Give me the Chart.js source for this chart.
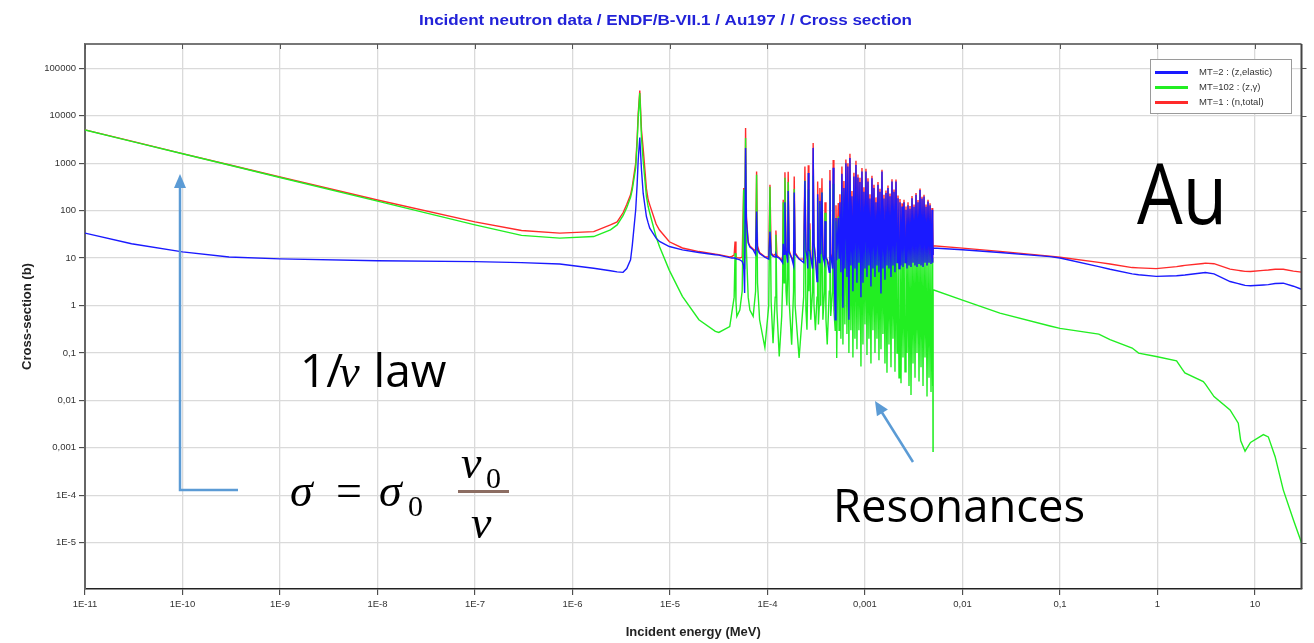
<!DOCTYPE html>
<html>
<head>
<meta charset="utf-8">
<script src="https://cdn.jsdelivr.net/npm/chart.js@4.4.1/dist/chart.umd.min.js"></script>
<style>
  html, body { margin: 0; padding: 0; background: #fff; }
  #wrap { width: 1314px; height: 643px; position: relative; }
</style>
</head>
<body>
<div id="wrap"><canvas id="grafico"></canvas></div>
<script>
// energies in eV, cross sections in barns
// below the resonances: 1/v region and the 4.9 eV resonance
const lowEnergy = [1e-5, 3e-5, 1e-4, 3e-4, 1e-3, 1e-2, 0.1, 0.3, 0.74, 1.65,
  2.45, 2.87, 3.3, 3.6, 3.94, 4.1, 4.45, 4.6, 4.72, 4.9,
  5.1, 5.31, 5.73, 5.97, 6.2, 7.2, 7.8, 9.85, 13.4, 19.8,
  29.2, 31.7, 41, 43];
const lowElastic = [33.6, 20, 13.5, 10.5, 9.6, 8.8, 8.4, 8.0, 7.5, 6.1,
  5.4, 5.1, 5.0, 6.0, 9.2, 18, 104, 350, 1170, 3470,
  724, 230, 75, 55, 42.7, 26.3, 22.4, 17.5, 14.9, 13.1,
  11.7, 11.5, 10.2, 10];
const lowCapture = [5000, 2887, 1580, 913, 500, 158, 50, 30, 26.3, 28.4,
  39.3, 50, 78, 115, 190, 274, 800, 2600, 9000, 30000,
  3500, 1100, 200, 122, 89, 28, 17.5, 5.5, 1.56, 0.5,
  0.285, 0.27, 0.36, 0.69];
const lowTotal = [5034, 2907, 1594, 924, 510, 167, 58, 38, 33.6, 36,
  50, 58, 90, 135, 215, 322, 1000, 3200, 11000, 34000,
  5000, 2000, 290, 169, 132, 52, 39, 22, 16.3, 13.7,
  12.1, 11.8, 10.6, 10.8];

// resolved resonances, 45 eV - 5 keV
const resEnergy = [45.5, 46.5, 47.5, 48.5, 52, 55, 57, 57.6, 58.3, 59.6,
  60.8, 63.4, 66, 71.3, 75.5, 77.3, 79, 83, 94, 103,
  106, 109, 114, 120, 122, 125, 132, 140, 143, 145,
  148, 151, 155, 158, 161, 163, 167, 177, 185, 188,
  192, 211, 235, 242, 248, 254, 259, 262, 266, 272,
  278, 290, 294, 300, 310, 322, 327, 333, 340, 345,
  352, 362, 370, 384, 389, 398, 410, 430, 437, 445,
  465, 472, 480, 495, 504, 513, 532, 542,
  553, 566, 580, 594, 608, 622, 637, 653, 668, 684,
  701, 717, 735, 752, 770, 789, 808, 827, 847, 867,
  888, 909, 931, 953, 976, 999, 1023, 1048, 1073, 1098,
  1125, 1151, 1179, 1207, 1236, 1266, 1296, 1327, 1359, 1391,
  1425, 1459, 1494, 1529, 1566, 1603, 1642, 1681, 1721, 1762,
  1805, 1848, 1892, 1937, 1984, 2031, 2080, 2130, 2180, 2233,
  2286, 2341, 2397, 2454, 2513, 2573, 2634, 2697, 2762, 2828,
  2896, 2965, 3036, 3108, 3183, 3259, 3337, 3416, 3498, 3582,
  3667, 3755, 3845, 3937, 4031, 4127, 4226, 4327, 4430, 4536,
  4645, 4756, 4869, 4930, 4960, 4986];
const resElastic = [10, 10, 9.7, 9.6, 9.2, 8.5, 7, 4, 1.83, 2090,
  60, 20.6, 17, 14.9, 12, 96, 15, 12.5, 10.5, 9.5,
  36, 12, 11, 10.5, 12, 10.5, 10, 8.5, 7.9, 20,
  12, 150, 14, 11, 8, 260, 13, 10, 7, 240,
  12, 9.5, 8, 420, 14, 11, 6, 620, 15, 14,
  10, 6, 2100, 20, 10, 3.2, 220, 12, 8, 160,
  12, 240, 11, 8, 60, 10, 9, 5, 430, 12,
  6, 800, 14, 0.5, 70, 9, 70, 10,
  150, 5, 600, 0.9, 300, 6, 1000, 4, 850, 0.5,
  1280, 7, 200, 2, 525, 6, 920, 3, 500, 8,
  400, 1.5, 670, 3, 250, 6, 670, 4, 410, 7,
  180, 2.5, 480, 6, 300, 4, 150, 7, 350, 5,
  250, 1.8, 670, 6, 180, 3.5, 234, 7, 300, 6,
  200, 4, 410, 7, 250, 5, 410, 8, 183, 6,
  150, 7, 122, 6.5, 150, 8, 104, 6, 130, 7,
  110, 6.5, 183, 8, 120, 7, 215, 6.5, 150, 7.5,
  273, 7, 180, 6.5, 198, 8, 120, 7, 155, 8,
  130, 7.5, 104, 8, 64, 12];
const resCapture = [1.5, 12.7, 1.2, 0.59, 0.8, 2, 280, 6, 10, 3400,
  15, 1.5, 0.8, 0.59, 2, 570, 3, 0.5, 0.13, 1,
  320, 1.2, 0.16, 1.5, 31, 0.8, 0.084, 0.6, 3, 150,
  3, 490, 2, 1, 4, 400, 1.2, 0.149, 2, 285,
  1, 0.078, 1.5, 430, 0.8, 0.31, 3, 280, 2, 40,
  0.5, 2, 550, 1, 0.3, 1.5, 190, 0.4, 1, 140,
  1, 240, 0.5, 2, 90, 0.5, 0.15, 2, 290, 0.6,
  2, 370, 0.8, 0.3, 60, 0.078, 75, 0.3,
  70, 0.2, 250, 0.15, 120, 0.4, 200, 0.25, 150, 0.1,
  300, 0.3, 60, 0.08, 100, 0.2, 200, 0.12, 80, 0.3,
  90, 0.052, 120, 0.15, 60, 0.4, 90, 0.09, 70, 0.2,
  40, 0.06, 60, 0.3, 50, 0.1, 40, 0.2, 50, 0.07,
  40, 0.12, 60, 0.25, 35, 0.06, 30, 0.038, 40, 0.15,
  30, 0.05, 50, 0.2, 30, 0.04, 40, 0.1, 25, 0.03,
  25, 0.023, 20, 0.08, 20, 0.04, 18, 0.1, 20, 0.02,
  15, 0.013, 20, 0.06, 15, 0.03, 20, 0.1, 18, 0.025,
  20, 0.05, 15, 0.02, 18, 0.08, 15, 0.012, 15, 0.03,
  12, 0.015, 10, 0.02, 5, 0.00084];
const resTotal = [11.5, 22.4, 10.9, 10.2, 10, 10.5, 300, 10, 12, 5500,
  75, 22, 18, 15.5, 14, 670, 18, 13, 10.6, 10.5,
  350, 13, 11.2, 12, 38, 11.3, 10.1, 9.1, 11, 170,
  15, 640, 16, 12, 12, 660, 14.2, 10.2, 9, 525,
  13, 9.6, 9.5, 850, 14.8, 11.3, 9, 900, 17, 54,
  10.5, 8, 2650, 21, 10.3, 4.7, 410, 12.4, 9, 300,
  13, 480, 11.5, 10, 150, 10.5, 9.2, 7, 720, 12.6,
  8, 1170, 15, 0.8, 130, 9.1, 145, 10.3,
  220, 5.2, 850, 1.05, 420, 6.4, 1200, 4.25, 1000, 0.6,
  1580, 7.3, 260, 2.08, 625, 6.2, 1120, 3.12, 580, 8.3,
  490, 1.55, 790, 3.15, 310, 6.4, 760, 4.1, 480, 7.2,
  220, 2.56, 540, 6.3, 350, 4.1, 190, 7.2, 400, 5.07,
  290, 1.92, 730, 6.25, 215, 3.56, 264, 7.04, 340, 6.15,
  230, 4.05, 460, 7.2, 280, 5.04, 450, 8.1, 208, 6.03,
  175, 7.02, 142, 6.58, 170, 8.04, 122, 6.1, 150, 7.02,
  125, 6.51, 203, 8.06, 135, 7.03, 235, 6.6, 168, 7.53,
  293, 7.05, 195, 6.52, 216, 8.08, 135, 7.01, 170, 8.03,
  142, 7.52, 114, 8.02, 69, 12];

// unresolved / fast region, 5 keV - 30 MeV
const highEnergy = [5000, 1e4, 2.42e4, 7.9e4, 1e5, 2.5e5, 3.26e5, 5.5e5, 6.4e5, 9.7e5,
  1.57e6, 1.8e6, 1.91e6, 2.95e6, 3.1e6, 3.8e6, 5.55e6, 6.74e6, 7.14e6, 7.91e6,
  9.0e6, 1.22e7, 1.37e7, 1.61e7, 1.95e7, 2.48e7, 3.0e7];
const highElastic = [16.2, 15, 13.1, 10.7, 10, 6.6, 5.8, 4.65, 4.45, 4.1,
  4.25, 4.35, 4.4, 4.9, 4.96, 4.65, 3.2, 2.9, 2.8, 2.65,
  2.6, 2.7, 2.75, 2.9, 2.95, 2.55, 2.2];
const highCapture = [2.14, 1.3, 0.69, 0.37, 0.33, 0.25, 0.19, 0.127, 0.099, 0.084,
  0.068, 0.045, 0.038, 0.025, 0.022, 0.012, 0.0063, 0.0033, 0.0014, 0.00085,
  0.0013, 0.0019, 0.0017, 0.00065, 0.00013, 0.00003, 0.00001];
const highTotal = [18.1, 16.2, 13.8, 11, 10.4, 8.1, 7.5, 6.3, 6.2, 6.0,
  6.6, 6.9, 7.0, 7.7, 7.8, 7.6, 5.85, 5.5, 5.4, 5.25,
  5.2, 5.5, 5.6, 5.8, 5.8, 5.3, 5.05];

const xTickValues = [1e-11, 1e-10, 1e-9, 1e-8, 1e-7, 1e-6, 1e-5, 1e-4, 1e-3, 1e-2, 1e-1, 1, 10];
const xTickLabels = ["1E-11", "1E-10", "1E-9", "1E-8", "1E-7", "1E-6", "1E-5", "1E-4", "0,001", "0,01", "0,1", "1", "10"];
const yTickValues = [1e-5, 1e-4, 1e-3, 1e-2, 1e-1, 1, 10, 100, 1000, 10000, 100000];
const yTickLabels = ["1E-5", "1E-4", "0,001", "0,01", "0,1", "1", "10", "100", "1000", "10000", "100000"];

const energy = lowEnergy.concat(resEnergy, highEnergy);
const serie = (lo, res, hi) => lo.concat(res, hi).map((v, i) => ({ x: energy[i] * 1e-6, y: v }));

const ARROW = "#5b9bd5";

function fitText(ctx, text, x, y, font, width) {
  ctx.font = font;
  const k = width / ctx.measureText(text).width;
  ctx.save();
  ctx.translate(x, y);
  ctx.scale(k, 1);
  ctx.fillText(text, 0, 0);
  ctx.restore();
}

function arrowHead(ctx, x0, y0, x1, y1, len, half) {
  const d = Math.hypot(x1 - x0, y1 - y0);
  const ux = (x1 - x0) / d, uy = (y1 - y0) / d;
  ctx.beginPath();
  ctx.moveTo(x1, y1);
  ctx.lineTo(x1 - ux * len - uy * half, y1 - uy * len + ux * half);
  ctx.lineTo(x1 - ux * len + uy * half, y1 - uy * len - ux * half);
  ctx.closePath();
  ctx.fill();
}

const extras = {
  id: "extras",
  afterDraw(chart) {
    const ctx = chart.ctx, a = chart.chartArea;
    const xs = chart.scales.x, ys = chart.scales.y;
    ctx.save();

    // frame + ticks on top and right
    ctx.strokeStyle = "#777";
    ctx.lineWidth = 2;
    ctx.beginPath();
    ctx.moveTo(a.left, a.top); ctx.lineTo(a.right, a.top);
    ctx.stroke();
    ctx.strokeStyle = "#444";
    ctx.beginPath();
    ctx.moveTo(a.right, a.top); ctx.lineTo(a.right, a.bottom);
    ctx.stroke();
    ctx.lineWidth = 1;
    ctx.strokeStyle = "#555";
    xTickValues.forEach(v => {
      const px = Math.round(xs.getPixelForValue(v)) + 0.5;
      ctx.beginPath(); ctx.moveTo(px, a.top); ctx.lineTo(px, a.top + 5); ctx.stroke();
    });
    yTickValues.forEach(v => {
      const py = Math.round(ys.getPixelForValue(v)) + 0.5;
      ctx.beginPath(); ctx.moveTo(a.right, py); ctx.lineTo(a.right + 5, py); ctx.stroke();
    });

    // title
    ctx.fillStyle = "#2222d8";
    ctx.textBaseline = "alphabetic";
    ctx.textAlign = "left";
    fitText(ctx, "Incident neutron data / ENDF/B-VII.1 / Au197 / / Cross section", 419, 25,
      'bold 14px "Liberation Sans"', 493);

    // legend
    ctx.fillStyle = "#fff";
    ctx.fillRect(1150.5, 59.5, 141, 54);
    ctx.strokeStyle = "#9a9a9a";
    ctx.lineWidth = 1;
    ctx.strokeRect(1150.5, 59.5, 141, 54);
    chart.data.datasets.forEach((ds, i) => {
      const y = 72.5 + i * 15;
      ctx.strokeStyle = ds.borderColor;
      ctx.lineWidth = 3;
      ctx.beginPath(); ctx.moveTo(1155, y); ctx.lineTo(1188, y); ctx.stroke();
      ctx.fillStyle = "#333";
      ctx.font = '9.5px "Liberation Sans"';
      ctx.textBaseline = "middle";
      ctx.fillText(ds.label, 1199, y);
    });

    // annotations
    ctx.textBaseline = "alphabetic";
    ctx.fillStyle = "#000";
    fitText(ctx, "Au", 1137, 224, '84px "Open Sans"', 90);
    fitText(ctx, "Resonances", 833, 522, '45px "Open Sans"', 252);

    let x = 300;
    ctx.font = '46px "Open Sans"';
    ctx.fillText("1/", x, 387);
    x += ctx.measureText("1/").width - 4;
    ctx.font = 'italic 46px "Liberation Serif"';
    ctx.fillText("v", x, 387);
    x += ctx.measureText("v").width + 2;
    ctx.font = '46px "Open Sans"';
    ctx.fillText(" law", x, 387);

    ctx.font = 'italic 46px "Liberation Serif"';
    ctx.fillText("σ", 290, 506);
    ctx.font = '46px "Liberation Serif"';
    ctx.fillText("=", 336, 506);
    ctx.font = 'italic 46px "Liberation Serif"';
    ctx.fillText("σ", 379, 506);
    ctx.fillText("v", 461, 478);
    ctx.fillText("v", 471, 538);
    ctx.font = '30px "Liberation Serif"';
    ctx.fillText("0", 408, 516);
    ctx.fillText("0", 486, 488);
    ctx.fillStyle = "#8c6d62";
    ctx.fillRect(458, 490, 51, 3);

    ctx.strokeStyle = ARROW;
    ctx.fillStyle = ARROW;
    ctx.lineWidth = 2.5;
    ctx.beginPath();
    ctx.moveTo(238, 490); ctx.lineTo(180, 490); ctx.lineTo(180, 186);
    ctx.stroke();
    arrowHead(ctx, 180, 490, 180, 174, 14, 6);
    ctx.beginPath();
    ctx.moveTo(913, 462); ctx.lineTo(881, 411);
    ctx.stroke();
    arrowHead(ctx, 913, 462, 875, 401, 14, 6.5);

    ctx.restore();
  }
};

const tickFont = { size: 9.5, family: "'Liberation Sans', sans-serif" };
const titleFont = { size: 13, weight: "bold", family: "'Liberation Sans', sans-serif" };

new Chart(document.getElementById("grafico").getContext("2d"), {
  type: "line",
  data: {
    datasets: [
      { label: "MT=2 : (z,elastic)", data: serie(lowElastic, resElastic, highElastic), borderColor: "#1a1aff" },
      { label: "MT=102 : (z,γ)", data: serie(lowCapture, resCapture, highCapture), borderColor: "#22ee22" },
      { label: "MT=1 : (n,total)", data: serie(lowTotal, resTotal, highTotal), borderColor: "#ff2a2a" }
    ].map(ds => Object.assign(ds, { borderWidth: 1.4, pointRadius: 0, tension: 0, fill: false }))
  },
  options: {
    responsive: true,
    maintainAspectRatio: false,
    animation: false,
    layout: { padding: { top: 44, right: 12.5, left: 0, bottom: 0 } },
    plugins: {
      legend: { display: false },
      title: { display: false },
      tooltip: { enabled: false }
    },
    scales: {
      x: {
        type: "logarithmic",
        min: 1e-11,
        max: 30,
        afterBuildTicks: s => { s.ticks = xTickValues.map(v => ({ value: v })); },
        afterFit: s => { s.height = 54; },
        ticks: {
          autoSkip: false, maxRotation: 0, padding: 4, color: "#333", font: tickFont,
          callback: (v, i) => xTickLabels[i]
        },
        grid: { color: "#dadada", lineWidth: 1.3, tickLength: 6, tickColor: "#333", tickWidth: 1 },
        border: { color: "#222", width: 1.5 },
        title: { display: true, text: "Incident energy (MeV)", color: "#222", font: titleFont, padding: { top: 0, bottom: 3 } }
      },
      y: {
        type: "logarithmic",
        min: 1.057e-6,
        max: 3.25e5,
        afterBuildTicks: s => { s.ticks = yTickValues.map(v => ({ value: v })); },
        afterFit: s => { s.width = 85; },
        ticks: {
          autoSkip: false, padding: 3, color: "#333", font: tickFont,
          callback: (v, i) => yTickLabels[i]
        },
        grid: { color: "#dadada", lineWidth: 1.3, tickLength: 6, tickColor: "#333", tickWidth: 1 },
        border: { color: "#666", width: 2 },
        title: { display: true, text: "Cross-section (b)", color: "#222", font: titleFont, padding: { top: 20, bottom: 0 } }
      }
    }
  },
  plugins: [extras]
});
</script>
</body>
</html>
